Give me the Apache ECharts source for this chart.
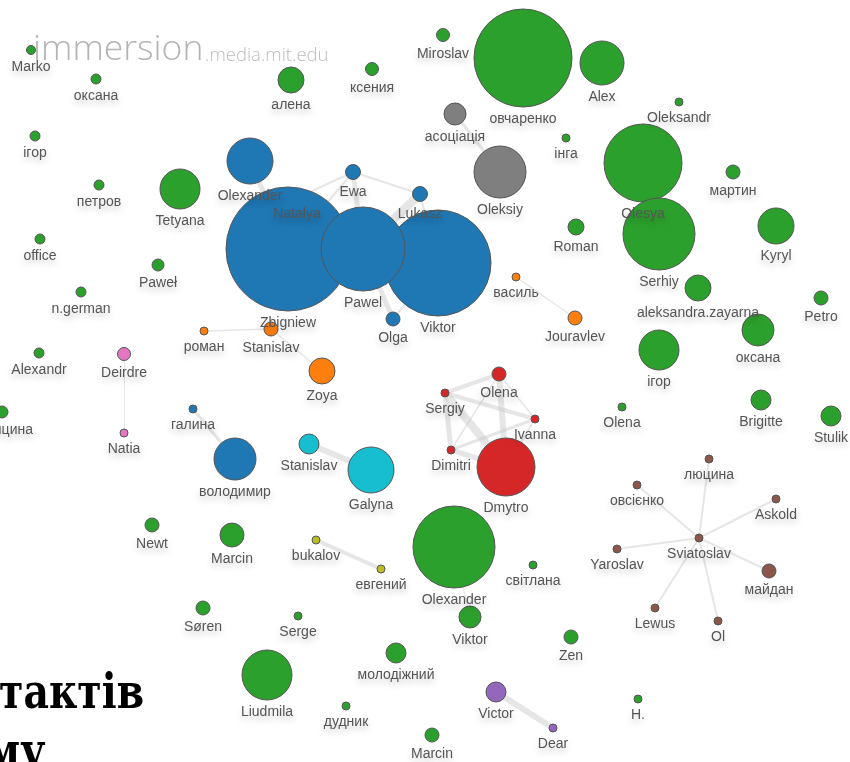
<!DOCTYPE html>
<html>
<head>
<meta charset="utf-8">
<script src="https://cdn.jsdelivr.net/npm/echarts@6/dist/echarts.min.js"></script>
<style>
html,body{margin:0;padding:0;background:#fff;}
#chart{width:850px;height:762px;}
</style>
</head>
<body>
<div id="chart"></div>
<script>
// ---- node data ----
const names = ["Marko","оксана","ігор","петров","Tetyana","Olexander","алена","ксения","Miroslav","овчаренко",
  "асоціація","Oleksiy","інга","Alex","Oleksandr","Olesya","мартин","Kyryl","Serhiy","Roman",
  "Natalya","Ewa","Lukasz","Zbigniew","Viktor","Pawel","Olga","office","Paweł","n.german",
  "роман","Stanislav","Zoya","Alexandr","Deirdre","Natia","Галицина","галина","володимир","Stanislav",
  "Galyna","василь","Jouravlev","aleksandra.zayarna","Petro","оксана","ігор","Olena","Brigitte","Stulik",
  "Olena","Sergiy","Ivanna","Dimitri","Dmytro","Newt","Marcin","bukalov","евгений","Olexander",
  "світлана","Søren","Serge","Viktor","Zen","Liudmila","молодіжний","дудник","Victor","Dear",
  "Marcin","H.","люцина","овсієнко","Askold","Sviatoslav","Yaroslav","майдан","Lewus","Ol"];
const xs = [31,96,35,99,180,250,291,372,443,523,
  455,500,566,602,679,643,733,776,659,576,
  297,353,420,288,438,363,393,40,158,81,
  204,271,322,39,124,124,2,193,235,309,
  371,516,575,698,821,758,659,622,761,831,
  499,445,535,451,506,152,232,316,381,454,
  533,203,298,470,571,267,396,346,496,553,
  432,638,709,637,776,699,617,769,655,718];
const ys = [50,79,136,185,189,161,80,69,35,58,
  114,172,138,63,102,163,172,226,234,227,
  198,172,194,249,263,249,319,239,265,292,
  331,329,371,353,354,433,412,409,459,444,
  470,277,318,288,298,330,350,407,400,416,
  374,393,419,450,467,525,535,540,569,547,
  565,608,616,617,637,675,653,706,692,728,
  735,699,459,485,499,538,549,571,608,621];
const radii = [4.5,5,5,5,20,23,13,6.5,6.5,49,
  11,26,4,22,4,39,7,18,36,8,
  3.5,7.5,7.5,62,53,42,7,5,6,5,
  4,7,13,5,6.5,4,6,4,21,10,
  23,4,7,13,7,16,20,4,10,10,
  7,4,4,4,29,7,12,4,4,41,
  4,7,4,11,7,25,10,4,10,4,
  7,4,4,4,4,4,4,7,4,4];
const groups = ["g","g","g","g","g","b","g","g","g","g",
  "k","k","g","g","g","g","g","g","g","g",
  "w","b","b","b","b","b","b","g","g","g",
  "o","o","o","g","p","p","g","b","b","c",
  "c","o","o","g","g","g","g","g","g","g",
  "r","r","r","r","r","g","g","y","y","g",
  "g","g","g","g","g","g","g","g","v","v",
  "g","g","n","n","n","n","n","n","n","n"];
// ---- link data ----
const linkSource = [5,21,21,21,22,22,23,24,25,26,20,
  10,30,31,34,37,39,41,57,68,59,
  51,51,51,51,50,50,50,52,53,52,
  75,75,75,75,75,75,75];
const linkTarget = [23,23,22,25,25,24,25,25,26,24,21,
  11,31,32,35,38,40,42,58,69,63,
  50,52,53,54,53,52,54,53,54,54,
  72,73,74,76,77,78,79];
const linkWidth = [5,2,2,5,9,2,2,2,5,2,2,
  3,1.5,1.5,1,3,6,1.5,4,6,1,
  4,4,5,8,1.5,1.5,6,3,5,2,
  2,2,2,2,2,2,2];

const palette = {g:'#2ca02c',b:'#1f77b4',k:'#7f7f7f',o:'#ff7f0e',p:'#e377c2',c:'#17becf',
  r:'#d62728',y:'#bcbd22',v:'#9467bd',n:'#8c564b',w:'#ffffff'};

const chart = echarts.init(document.getElementById('chart'), null, {renderer:'canvas'});
chart.setOption({
  animation:false,
  backgroundColor:'#fff',
  grid:{left:0,right:0,top:0,bottom:0,containLabel:false},
  xAxis:{type:'value',min:0,max:850,show:false},
  yAxis:{type:'value',min:0,max:762,inverse:true,show:false},
  graphic:[
    {type:'text',left:33,top:32,z:0,silent:true,
      style:{text:'immersion',font:'300 35.5px "Open Sans"',fill:'#b4b4b4'}},
    {type:'text',left:205,top:46,z:0,silent:true,
      style:{text:'.media.mit.edu',font:'300 18.5px "Open Sans"',fill:'#bdbdbd'}},
    {type:'text',x:-1,y:0,scaleX:0.82,z:100,silent:true,
      style:{x:0,y:696,verticalAlign:'middle',text:'тактів',font:'bold 48px "DejaVu Serif"',fill:'#000'}},
    {type:'text',x:-14,y:0,scaleX:0.82,z:100,silent:true,
      style:{x:0,y:755,verticalAlign:'middle',text:'му',font:'bold 48px "DejaVu Serif"',fill:'#000'}}
  ],
  series:[{
    type:'graph',
    coordinateSystem:'cartesian2d',
    layout:'none',
    z:2,
    data:names.map((n,i)=>({
      id:String(i),
      name:n,
      value:[xs[i],ys[i]],
      symbolSize:radii[i]*2,
      itemStyle:{color:palette[groups[i]]}
    })),
    links:linkSource.map((s,i)=>({source:s,target:linkTarget[i],lineStyle:{width:linkWidth[i]}})),
    itemStyle:{borderColor:'#555',borderWidth:1},
    lineStyle:{color:'#c8c8c8',opacity:0.45,curveness:0},
    label:{show:true,position:'bottom',distance:5,formatter:'{b}',
      fontFamily:'"Liberation Sans", Arial, sans-serif',fontSize:14,color:'#555',
      textShadowColor:'rgba(0,0,0,0.22)',textShadowBlur:7,textShadowOffsetY:4},
    emphasis:{disabled:true},
    silent:true
  }]
});
</script>
</body>
</html>
